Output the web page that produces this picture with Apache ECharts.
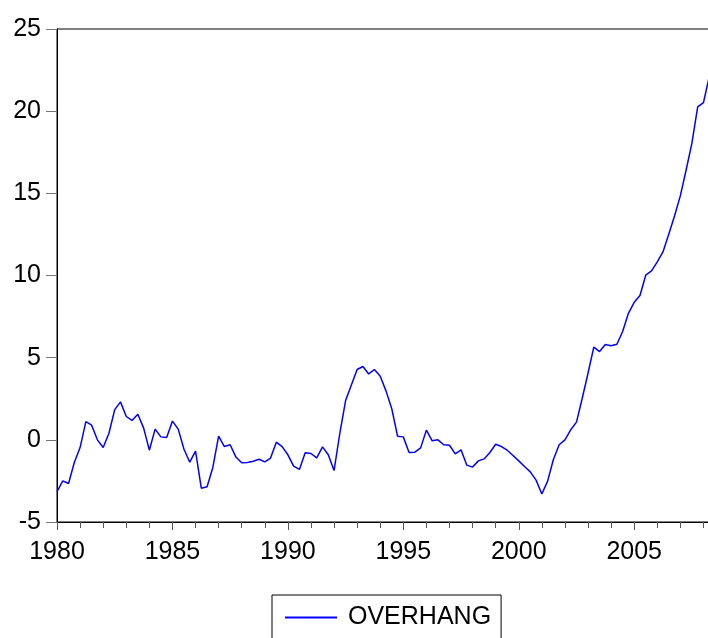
<!DOCTYPE html>
<html>
<head>
<meta charset="utf-8">
<script src="https://cdn.jsdelivr.net/npm/echarts@6/dist/echarts.min.js"></script>
<style>
html,body{margin:0;padding:0;background:#fff;}
#chart{width:708px;height:638px;}
</style>
</head>
<body>
<div id="chart"></div>
<script>
// Quarterly series, 1980Q1 .. 2008Q2
var startYear = 1980;
var seriesName = 'OVERHANG';
var overhang = [
  -3.16, -2.50, -2.66, -1.38, -0.47, 1.11, 0.89, 0.00,
  -0.47, 0.40, 1.84, 2.31, 1.42, 1.18, 1.56, 0.73,
  -0.63, 0.65, 0.18, 0.14, 1.14, 0.65, -0.57, -1.36,
  -0.69, -2.94, -2.86, -1.68, 0.22, -0.41, -0.30, -1.05,
  -1.40, -1.38, -1.30, -1.18, -1.34, -1.11, -0.14, -0.41,
  -0.91, -1.60, -1.80, -0.79, -0.83, -1.10, -0.43, -0.91,
  -1.87, 0.40, 2.39, 3.33, 4.28, 4.46, 4.01, 4.28,
  3.87, 2.98, 1.89, 0.22, 0.18, -0.77, -0.75, -0.49,
  0.59, -0.06, 0.00, -0.30, -0.33, -0.85, -0.61, -1.54,
  -1.66, -1.28, -1.16, -0.77, -0.27, -0.41, -0.63, -0.95,
  -1.28, -1.62, -1.95, -2.45, -3.30, -2.51, -1.20, -0.30,
  0.00, 0.61, 1.08, 2.53, 4.05, 5.64, 5.37, 5.80,
  5.72, 5.82, 6.59, 7.70, 8.37, 8.78, 10.02, 10.28,
  10.83, 11.45, 12.53, 13.64, 14.86, 16.42, 18.05, 20.26,
  20.52, 22.10
];
var yTicks = [-5, 0, 5, 10, 15, 20, 25];
var xTicks = [1980, 1985, 1990, 1995, 2000, 2005];

var points = overhang.map(function (v, i) { return [startYear + i * 0.25, v]; });

var chart = echarts.init(document.getElementById('chart'), null, {renderer: 'canvas'});
var font = 'Liberation Sans, Arial, Helvetica, sans-serif';
chart.setOption({
  animation: false,
  backgroundColor: '#ffffff',
  grid: {
    left: 57, top: 29, width: 658, height: 493,
    outerBoundsMode: 'none',
    containLabel: false,
    show: true, borderColor: '#000', borderWidth: 1, backgroundColor: 'transparent'
  },
  legend: {
    data: [{name: seriesName, icon: 'rect'}],
    left: 272, top: 595,
    borderColor: '#000', borderWidth: 1,
    padding: [10, 10, 14, 13],
    itemWidth: 52, itemHeight: 2,
    itemStyle: {color: '#0000ff', borderWidth: 0, borderColor: '#0000ff'},
    textStyle: {fontFamily: font, fontSize: 25, color: '#000', padding: [0, 0, 0, 6]}
  },
  xAxis: {
    type: 'value',
    min: 1980, max: 2008.5,
    interval: 5,
    axisLine: {show: true, onZero: false, lineStyle: {color: '#000', width: 1}},
    axisTick: {show: true, inside: false, length: 8, lineStyle: {color: '#555'}},
    minorTick: {show: true, splitNumber: 5, length: 6, lineStyle: {color: '#555'}},
    splitLine: {show: false},
    axisLabel: {
      fontFamily: font, fontSize: 25, color: '#000', margin: 18,
      showMaxLabel: false,
      formatter: function (v) { return xTicks.indexOf(v) >= 0 ? String(v) : ''; }
    }
  },
  yAxis: {
    type: 'value',
    min: -5, max: 25, interval: 5,
    axisLine: {show: true, onZero: false, lineStyle: {color: '#000', width: 1}},
    axisTick: {show: true, inside: false, length: 11, lineStyle: {color: '#777'}},
    splitLine: {show: false},
    axisLabel: {
      fontFamily: font, fontSize: 25, color: '#000', margin: 16,
      formatter: function (v) { return yTicks.indexOf(v) >= 0 ? String(v) : ''; }
    }
  },
  series: [{
    name: seriesName,
    type: 'line',
    data: points,
    symbol: 'none',
    showSymbol: false,
    lineStyle: {color: '#0000ff', width: 1.5},
    itemStyle: {color: '#0000ff'},
    clip: true
  }]
});
</script>
</body>
</html>
